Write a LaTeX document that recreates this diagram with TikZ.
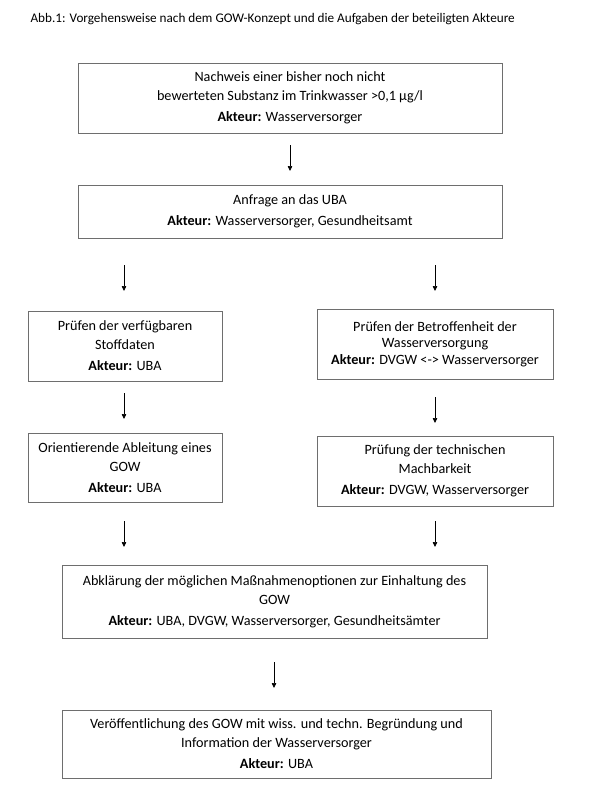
\documentclass[tikz,border=0pt]{standalone}
\usepackage{fontspec}
\setmainfont{Carlito}
\usetikzlibrary{arrows.meta}
\definecolor{boxgray}{HTML}{6E6E6E}
\begin{document}
\begin{tikzpicture}[x=1pt,y=-1pt,
  box/.style={draw=boxgray, line width=0.8pt, align=center, inner sep=0pt, font=\fontsize{14.2}{19}\selectfont},
  arr/.style={-{Triangle[length=5pt,width=4.5pt]}, line width=0.7pt}]
\useasboundingbox[fill=white] (0,0) rectangle (591,798);
\node[anchor=base west, font=\fontsize{13.2}{15}\selectfont] (title) at (27,22) {Abb.1: Vorgehensweise nach dem GOW-Konzept und die Aufgaben der beteiligten Akteure};

\node[box, minimum width=424pt, minimum height=70pt] (b1) at (290,98) {Nachweis einer bisher noch nicht\\bewerteten Substanz im Trinkwasser >0,1 µg/l\\[2pt]\textbf{Akteur:} Wasserversorger};
\node[box, minimum width=424pt, minimum height=53pt] (b2) at (290,211.5) {Anfrage an das UBA\\[2pt]\textbf{Akteur:} Wasserversorger, Gesundheitsamt};

\node[box, minimum width=194pt, minimum height=70pt] (b3l) at (125,346) {Prüfen der verfügbaren\\Stoffdaten\\[2pt]\textbf{Akteur:} UBA};
\node[box, minimum width=236pt, minimum height=70pt, font=\fontsize{14.2}{16.5}\selectfont] (b3r) at (435,344) {Prüfen der Betroffenheit der\\Wasserversorgung\\\textbf{Akteur:} DVGW <-> Wasserversorger};

\node[box, minimum width=194pt, minimum height=69pt] (b4l) at (125,467.5) {Orientierende Ableitung eines\\GOW\\[2pt]\textbf{Akteur:} UBA};
\node[box, minimum width=236pt, minimum height=70pt] (b4r) at (435,471) {Prüfung der technischen\\Machbarkeit\\[2pt]\textbf{Akteur:} DVGW, Wasserversorger};

\node[box, minimum width=425pt, minimum height=73pt] (b5) at (274.5,601.5) {Abklärung der möglichen Maßnahmenoptionen zur Einhaltung des\\GOW\\[2pt]\textbf{Akteur:} UBA, DVGW, Wasserversorger, Gesundheitsämter};
\node[box, minimum width=429pt, minimum height=68pt] (b6) at (276.5,744) {Veröffentlichung des GOW mit wiss. und techn. Begründung und\\Information der Wasserversorger\\[2pt]\textbf{Akteur:} UBA};

\coordinate (a1s) at (290,145); \coordinate (a1e) at (290,171);
\coordinate (a2s) at (124,265); \coordinate (a2e) at (124,291);
\coordinate (a3s) at (435,265); \coordinate (a3e) at (435,291);
\coordinate (a4s) at (124,393); \coordinate (a4e) at (124,419);
\coordinate (a5s) at (435,397); \coordinate (a5e) at (435,423);
\coordinate (a6s) at (124,521); \coordinate (a6e) at (124,547);
\coordinate (a7s) at (435,521); \coordinate (a7e) at (435,547);
\coordinate (a8s) at (274,662); \coordinate (a8e) at (274,688);
\foreach \i in {1,...,8} \draw[arr] (a\i s) -- (a\i e);
\end{tikzpicture}
\end{document}
